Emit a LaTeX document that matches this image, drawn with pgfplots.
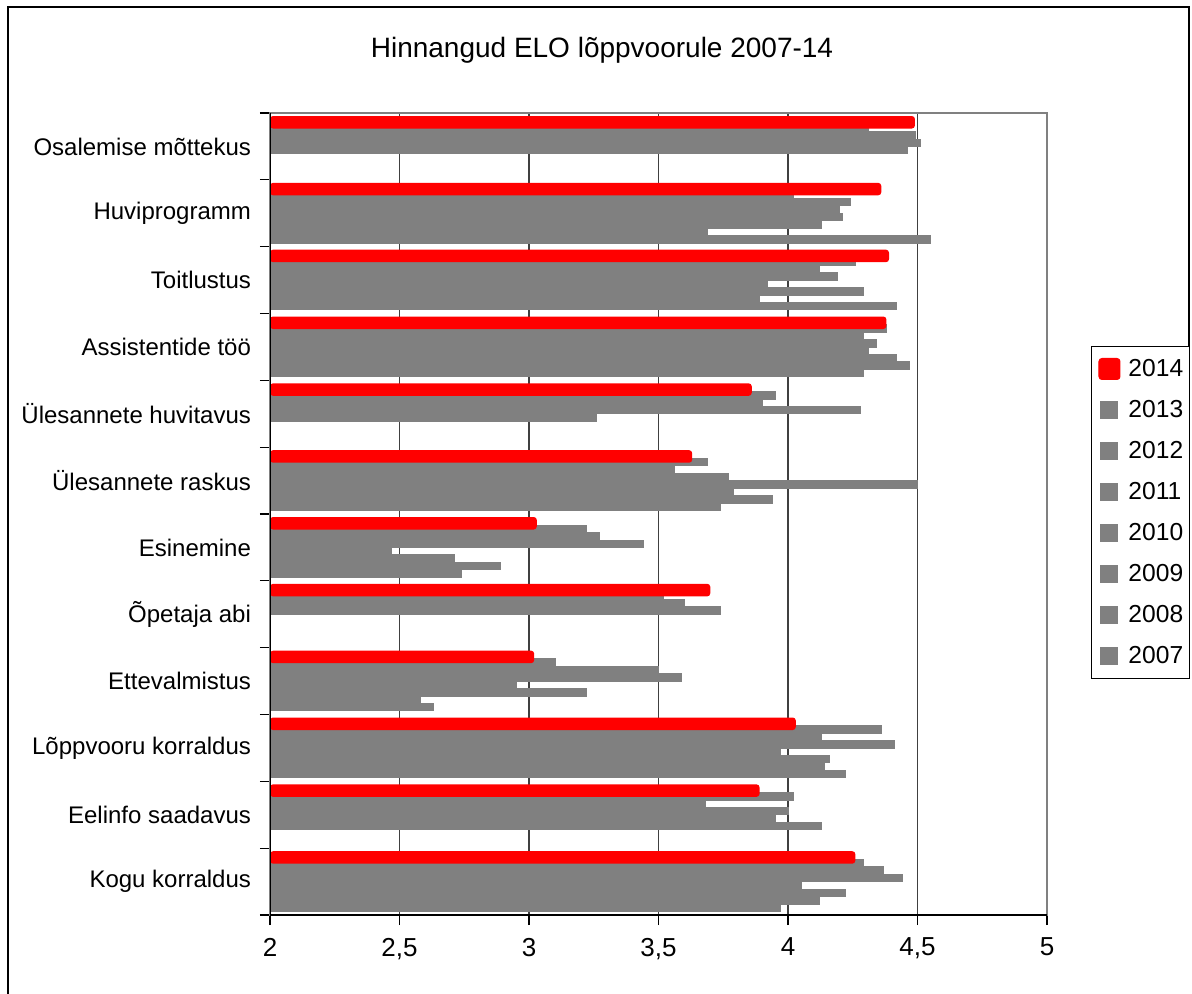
\documentclass[border=0pt]{standalone}
\usepackage{pgfplots}
\pgfplotsset{compat=1.18}
\usepackage{pgfplotstable}
\usepackage{fontspec}
\setmainfont{Liberation Sans}

\pgfplotstableread{
idx v2014 v2013 v2012 v2011 v2010 v2009 v2008 v2007
0  4.49 4.31 4.49 4.51 4.46 nan  nan  nan
1  4.36 4.02 4.24 4.20 4.21 4.13 3.69 4.55
2  4.39 4.26 4.12 4.19 3.92 4.29 3.89 4.42
3  4.38 4.38 4.29 4.34 4.31 4.42 4.47 4.29
4  3.86 3.95 3.90 4.28 3.26 nan  nan  nan
5  3.63 3.69 3.56 3.77 4.50 3.79 3.94 3.74
6  3.03 3.22 3.27 3.44 2.47 2.71 2.89 2.74
7  3.70 3.52 3.60 3.74 nan  nan  nan  nan
8  3.02 3.10 3.50 3.59 2.95 3.22 2.58 2.63
9  4.03 4.36 4.13 4.41 3.97 4.16 4.14 4.22
10 3.89 4.02 3.68 4.00 3.95 4.13 nan  nan
11 4.26 4.29 4.37 4.44 4.05 4.22 4.12 3.97
}\data

\definecolor{barred}{HTML}{FF0000}
\definecolor{bargray}{HTML}{808080}

\pgfplotsset{
  graylegend/.style={legend image code/.code={\path (0pt,0pt) (18pt,0pt); \fill[bargray] (4.5pt,-4.25pt) rectangle (13pt,4.25pt);}},
  redlegend/.style={legend image code/.code={\path (0pt,0pt) (18pt,0pt); \fill[barred, rounded corners=1.5pt] (3.5pt,-5.25pt) rectangle (14pt,5.25pt);}},
  graybar/.style={xbar, bar shift=0pt, bar width=0.111, fill=bargray, draw=bargray, line width=0.35pt, forget plot},
}

\begin{document}
\begin{tikzpicture}
\useasboundingbox (0pt,0pt) rectangle (596pt,-497pt);
% outer chart frame
\draw[black, line width=1pt] (4pt,-497pt) -- (4pt,-3.5pt) -- (594.5pt,-3.5pt) -- (594.5pt,-173pt);
\node[font=\fontsize{14}{16}\selectfont] at (301pt,-25pt) {Hinnangud ELO lõppvoorule 2007-14};
\begin{axis}[
  at={(135pt,-56.5pt)}, anchor=north west,
  width=388.5pt, height=401pt, scale only axis,
  xmin=2, xmax=5, ymin=-0.5, ymax=11.5,
  y dir=reverse,
  xtick={2,2.5,3,3.5,4,4.5,5},
  /pgf/number format/.cd, use comma, assume math mode=true, /pgfplots/.cd,
  xticklabel style={font=\fontsize{13}{15}\selectfont, yshift=-3pt},
  ytick={-0.5,0.5,...,11.5},
  yticklabels={},
  extra y ticks={0,1,2,3,4,5,6,7,8,9,10,11},
  extra y tick labels={Osalemise mõttekus,Huviprogramm,Toitlustus,Assistentide töö,Ülesannete huvitavus,Ülesannete raskus,Esinemine,Õpetaja abi,Ettevalmistus,Lõppvooru korraldus,Eelinfo saadavus,Kogu korraldus},
  extra y tick style={major tick length=0pt, tick style={draw=none},
     yticklabel style={font=\fontsize{12}{14}\selectfont, xshift=-6pt}},
  tick align=outside,
  major tick length=5pt,
  xtick pos=bottom, ytick pos=left,
  tick style={black, line width=0.6pt},
  xmajorgrids,
  major grid style={black!75, line width=0.6pt},
  axis line style={draw=bargray, line width=0.6pt},
  legend style={at={(1.0566,0.7095)}, anchor=north west,
     draw=black, line width=0.5pt, inner xsep=0pt, inner ysep=1pt,
     column sep=0pt, row sep=0pt,
     font=\fontsize{12.3}{14}\selectfont,
     nodes={inner sep=0pt, minimum height=20.5pt, text width=30.5pt, align=left}},
  legend cell align=left,
]
\addlegendimage{redlegend}
\addlegendentry{2014}
\addlegendimage{graylegend}
\addlegendentry{2013}
\addlegendimage{graylegend}
\addlegendentry{2012}
\addlegendimage{graylegend}
\addlegendentry{2011}
\addlegendimage{graylegend}
\addlegendentry{2010}
\addlegendimage{graylegend}
\addlegendentry{2009}
\addlegendimage{graylegend}
\addlegendentry{2008}
\addlegendimage{graylegend}
\addlegendentry{2007}
\addplot[graybar] table[x=v2013, y expr=\thisrow{idx}-0.2775] {\data};
\addplot[graybar] table[x=v2012, y expr=\thisrow{idx}-0.1665] {\data};
\addplot[graybar] table[x=v2011, y expr=\thisrow{idx}-0.0555] {\data};
\addplot[graybar] table[x=v2010, y expr=\thisrow{idx}+0.0555] {\data};
\addplot[graybar] table[x=v2009, y expr=\thisrow{idx}+0.1665] {\data};
\addplot[graybar] table[x=v2008, y expr=\thisrow{idx}+0.2775] {\data};
\addplot[graybar] table[x=v2007, y expr=\thisrow{idx}+0.3885] {\data};
\addplot[xbar, bar shift=0pt, bar width=0.187, fill=barred, draw=none, rounded corners=1.5pt, forget plot] table[x=v2014, y expr=\thisrow{idx}-0.3615] {\data};
\draw[black, line width=0.8pt] (rel axis cs:0,0) -- (rel axis cs:0,1);
\draw[black, line width=0.8pt] (rel axis cs:0,0) -- (rel axis cs:1,0);
\end{axis}
\end{tikzpicture}
\end{document}
